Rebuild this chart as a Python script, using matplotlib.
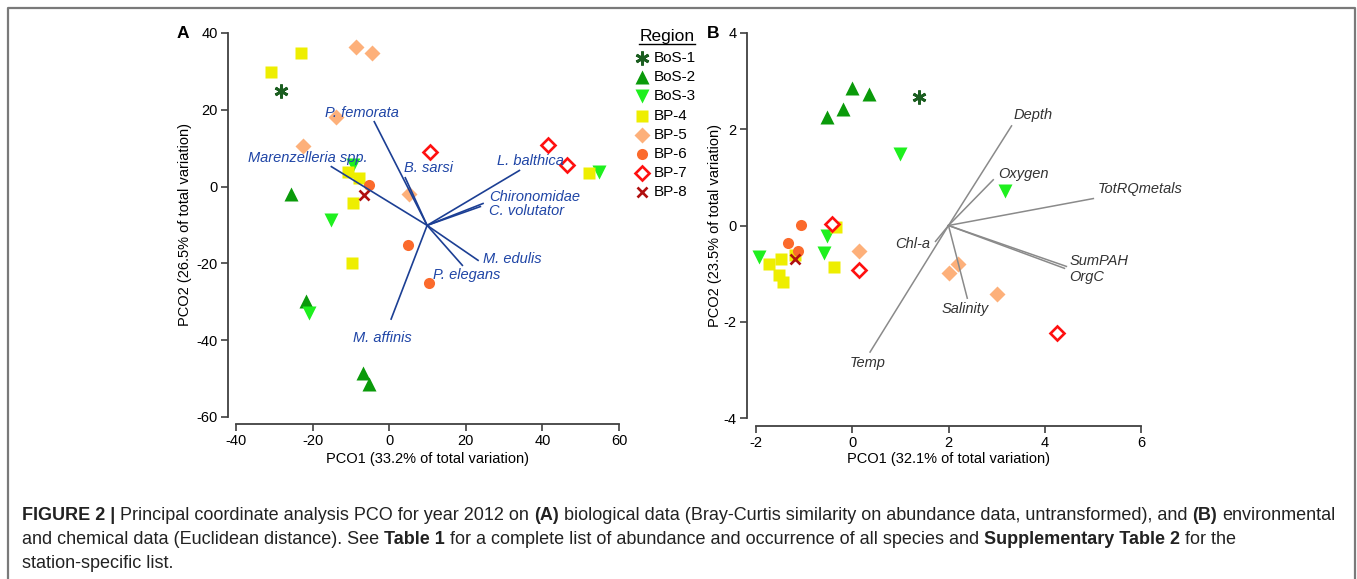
import numpy as np
import matplotlib
matplotlib.use('Agg')
import matplotlib.pyplot as plt
from matplotlib.lines import Line2D

plt.rcParams['font.family'] = ['Liberation Sans', 'DejaVu Sans']
plt.rcParams['axes.unicode_minus'] = False

W, H, DPI = 1357, 579, 100

# ---- data -------------------------------------------------------------
regions = ['BoS-1', 'BoS-2', 'BoS-3', 'BP-4', 'BP-5', 'BP-6', 'BP-7', 'BP-8']

# panel A: biological data (Bray-Curtis)
bio_x = {
    'BoS-1': [-28.2],
    'BoS-2': [-25.6, -21.7, -6.8, -5.2],
    'BoS-3': [-9.4, -15.1, -20.9, 54.8],
    'BP-4': [-30.8, -23.0, -10.7, -7.8, -9.4, -9.7, 52.2],
    'BP-5': [-8.6, -4.4, -13.8, -22.5, 5.2],
    'BP-6': [-5.2, 5.0, 10.4],
    'BP-7': [10.7, 41.5, 46.5],
    'BP-8': [-6.5],
}
bio_y = {
    'BoS-1': [24.9],
    'BoS-2': [-1.8, -29.9, -48.6, -51.4],
    'BoS-3': [5.5, -8.6, -33.0, 3.9],
    'BP-4': [29.9, 34.8, 3.9, 2.3, -4.2, -20.0, 3.6],
    'BP-5': [36.4, 34.8, 18.2, 10.6, -1.8],
    'BP-6': [0.3, -15.3, -25.2],
    'BP-7': [9.1, 10.9, 5.7],
    'BP-8': [-2.3],
}
species = ['P. femorata', 'B. sarsi', 'Marenzelleria spp.', 'L. balthica',
           'Chironomidae', 'C. volutator', 'M. edulis', 'P. elegans', 'M. affinis']
species_x = [-3.9, 4.2, -15.1, 34.0, 24.5, 23.8, 23.2, 19.1, 0.5]
species_y = [16.9, 2.3, 5.2, 4.2, -4.4, -5.2, -19.2, -20.5, -34.5]
bio_origin = (9.9, -10.1)

# panel B: environmental and chemical data (Euclidean)
env_x = {
    'BoS-1': [1.39],
    'BoS-2': [-0.52, -0.19, 0.0, 0.35],
    'BoS-3': [1.0, 3.18, -0.52, -1.93, -0.58],
    'BP-4': [-0.33, -1.73, -1.48, -1.52, -1.43, -0.37, -1.2],
    'BP-5': [0.15, 2.02, 2.2, 3.0],
    'BP-6': [-1.06, -1.33, -1.12],
    'BP-7': [-0.42, 0.15, 4.26],
    'BP-8': [-1.18],
}
env_y = {
    'BoS-1': [2.66],
    'BoS-2': [2.26, 2.42, 2.85, 2.73],
    'BoS-3': [1.49, 0.71, -0.21, -0.66, -0.58],
    'BP-4': [-0.04, -0.79, -0.70, -1.02, -1.18, -0.87, -0.62],
    'BP-5': [-0.54, -0.98, -0.79, -1.43],
    'BP-6': [0.02, -0.37, -0.52],
    'BP-7': [0.04, -0.93, -2.24],
    'BP-8': [-0.70],
}
variables = ['Depth', 'Oxygen', 'TotRQmetals', 'SumPAH', 'OrgC', 'Chl-a', 'Salinity', 'Temp']
variables_x = [3.31, 2.93, 5.01, 4.45, 4.41, 1.73, 2.39, 0.37]
variables_y = [2.07, 0.95, 0.56, -0.85, -0.89, -0.33, -1.51, -2.63]
env_origin = (2.0, 0.0)

# ---- styles -----------------------------------------------------------
marker_style = {
    'BoS-1': dict(marker=(6, 2, 0), ms=10, mew=2.0, color='#1b5e20'),
    'BoS-2': dict(marker='^', ms=9.5, color='#0a9a0a', mec='none'),
    'BoS-3': dict(marker='v', ms=9.5, color='#1ef01e', mec='none'),
    'BP-4': dict(marker='s', ms=8.0, color='#eeee00', mec='none'),
    'BP-5': dict(marker='D', ms=8.5, color='#fdb07a', mec='none'),
    'BP-6': dict(marker='o', ms=8.0, color='#fb6a2c', mec='none'),
    'BP-7': dict(marker='D', ms=7.0, mfc='white', mec='#ff1010', mew=1.9),
    'BP-8': dict(marker='x', ms=7.5, mew=1.9, color='#b01010'),
}

# label offsets (pixels) and horizontal alignment for the vector labels
species_off = [(-12, 9, 'center'), (-1, 10, 'left'), (-24, 9, 'center'),
               (11, 9, 'center'), (6, 6, 'left'), (9, -4, 'left'),
               (5, 1, 'left'), (-29, -10, 'left'), (-9, -19, 'center')]
variables_off = [(2, 11, 'left'), (5, 6, 'left'), (4, 10, 'left'), (3, 5, 'left'),
                 (5, -9, 'left'), (-5, -3, 'right'), (-2, -11, 'center'),
                 (-2, -11, 'center')]

AX_COLOR = '#404040'


def px_rect(left, top, right, bottom):
    """figure-fraction rectangle from pixel edges (top-left origin)"""
    return [left / W, 1 - bottom / H, (right - left) / W, (bottom - top) / H]


def setup_axes(ax, xticks, yticks, off_left, off_bottom):
    for side in ('top', 'right'):
        ax.spines[side].set_visible(False)
    ax.spines['left'].set_position(('outward', off_left * 0.72))
    ax.spines['bottom'].set_position(('outward', off_bottom * 0.72))
    for side in ('left', 'bottom'):
        ax.spines[side].set_color(AX_COLOR)
        ax.spines[side].set_linewidth(1.3)
    ax.set_xlim(xticks[0], xticks[-1])
    ax.set_ylim(yticks[0], yticks[-1])
    ax.set_xticks(xticks)
    ax.set_yticks(yticks)
    ax.tick_params(direction='out', length=5, width=1.2, color=AX_COLOR,
                   labelsize=10.5, pad=2.5)
    ax.patch.set_visible(False)


def draw_points(ax, xs, ys):
    for r in regions:
        ax.plot(xs[r], ys[r], ls='none', clip_on=False, zorder=3, **marker_style[r])


def draw_vectors(ax, origin, names, vx, vy, offs, lcolor, tcolor, lw):
    for name, x, y, (dx, dy, ha) in zip(names, vx, vy, offs):
        ax.plot([origin[0], x], [origin[1], y], color=lcolor, lw=lw, zorder=4,
                clip_on=False)
        ax.annotate(name, xy=(x, y), xytext=(dx, dy), textcoords='offset pixels',
                    ha=ha, va='center', fontsize=10.5, style='italic',
                    color=tcolor, zorder=5)


fig = plt.figure(figsize=(W / DPI, H / DPI), dpi=DPI)

# ---- panel A ----
axA = fig.add_axes(px_rect(236, 33, 619, 417))
setup_axes(axA, [-40, -20, 0, 20, 40, 60], [-60, -40, -20, 0, 20, 40], 8, 7)
draw_points(axA, bio_x, bio_y)
draw_vectors(axA, bio_origin, species, species_x, species_y, species_off,
             '#1c3f94', '#1f45a6', 1.2)
axA.set_xlabel('PCO1 (33.2% of total variation)', fontsize=10.5)
axA.set_ylabel('PCO2 (26.5% of total variation)', fontsize=10.5)
axA.xaxis.set_label_coords(0.5, -(459 - 417) / 384)
axA.xaxis.label.set_va('center')
axA.yaxis.set_label_coords((185 - 236) / 383, 0.5)
axA.yaxis.label.set_va('center')

# ---- panel B ----
axB = fig.add_axes(px_rect(756, 33, 1141, 418))
setup_axes(axB, [-2, 0, 2, 4, 6], [-4, -2, 0, 2, 4], 9, 8)
draw_points(axB, env_x, env_y)
draw_vectors(axB, env_origin, variables, variables_x, variables_y, variables_off,
             '#8a8a8a', '#333333', 1.1)
axB.set_xlabel('PCO1 (32.1% of total variation)', fontsize=10.5)
axB.set_ylabel('PCO2 (23.5% of total variation)', fontsize=10.5)
axB.xaxis.set_label_coords(0.5, -(459 - 418) / 385)
axB.xaxis.label.set_va('center')
axB.yaxis.set_label_coords((715 - 756) / 385, 0.5)
axB.yaxis.label.set_va('center')

# panel letters
fig.text(177 / W, 1 - 33 / H, 'A', fontsize=12.5, fontweight='bold', va='center')
fig.text(707 / W, 1 - 33 / H, 'B', fontsize=12.5, fontweight='bold', va='center')

# ---- legend ----
title = fig.text(667 / W, 1 - 37 / H, 'Region', fontsize=12.5, ha='center', va='center')
for i, r in enumerate(regions):
    yy = 1 - (58 + i * 19.2) / H
    fig.add_artist(Line2D([642 / W], [yy], ls='none', **marker_style[r]))
    fig.text(654 / W, yy, r, fontsize=11, va='center')

renderer = fig.canvas.get_renderer()
bb = title.get_window_extent(renderer)
fig.add_artist(Line2D([bb.x0 / W, bb.x1 / W], [(bb.y0 + 1) / H] * 2,
                      color='black', lw=1.0))

# ---- frame around figure ----
fig.add_artist(Line2D([8 / W, 8 / W, 1355 / W, 1355 / W],
                      [0, 1 - 8 / H, 1 - 8 / H, 0], color='#7a7a7a', lw=1.6))

# ---- caption with bold runs ----
CAP_SIZE = 13.0
caption_lines = [
    [('FIGURE 2 |', True),
     ('Principal coordinate analysis PCO for year 2012 on', False), ('(A)', True),
     ('biological data (Bray-Curtis similarity on abundance data, untransformed), and', False),
     ('(B)', True), ('environmental', False)],
    [('and chemical data (Euclidean distance). See', False), ('Table 1', True),
     ('for a complete list of abundance and occurrence of all species and', False),
     ('Supplementary Table 2', True), ('for the', False)],
    [('station-specific list.', False)],
]
caption_y = [515, 539, 563]


def text_width(s, bold):
    t = fig.text(0, 0, s, fontsize=CAP_SIZE, fontweight='bold' if bold else 'normal')
    w = t.get_window_extent(renderer).width
    t.remove()
    return w


space_w = text_width('x x', False) - text_width('xx', False)
for parts, py in zip(caption_lines, caption_y):
    x = 22.0
    for s, bold in parts:
        t = fig.text(x / W, 1 - py / H, s, fontsize=CAP_SIZE, va='center',
                     color='#222222', fontweight='bold' if bold else 'normal')
        x += t.get_window_extent(renderer).width + space_w

fig.savefig('out.png', dpi=DPI)
